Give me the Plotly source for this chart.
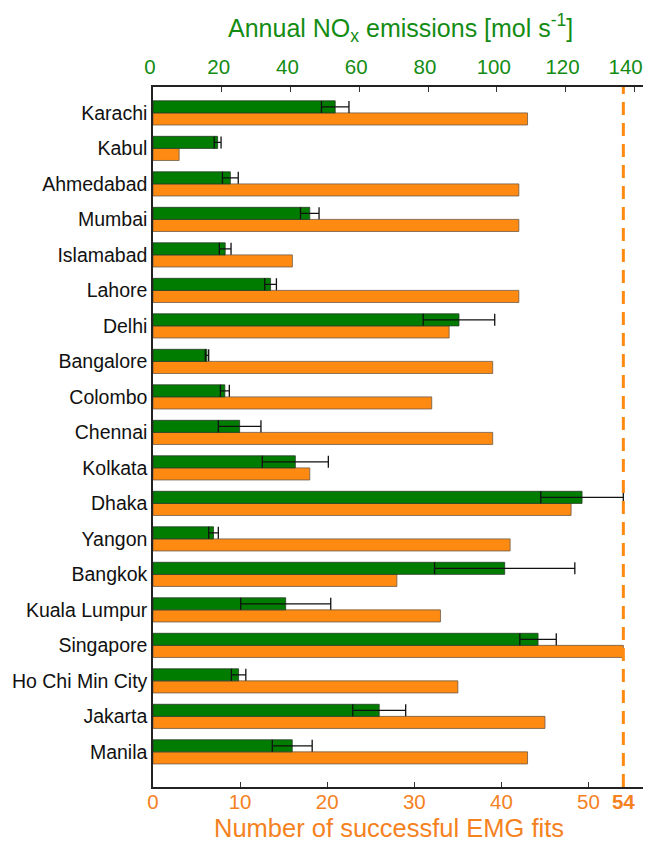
import plotly.graph_objects as go

cities = ["Karachi", "Kabul", "Ahmedabad", "Mumbai", "Islamabad", "Lahore", "Delhi",
          "Bangalore", "Colombo", "Chennai", "Kolkata", "Dhaka", "Yangon", "Bangkok",
          "Kuala Lumpur", "Singapore", "Ho Chi Min City", "Jakarta", "Manila"]
nox = [53.0, 18.8, 22.5, 45.6, 21.0, 34.2, 89.0, 15.7, 20.9, 25.2, 41.4, 124.8,
       17.6, 102.3, 38.6, 112.0, 24.9, 65.8, 40.5]
nox_err = [4.0, 1.0, 2.3, 2.7, 1.7, 1.7, 10.4, 0.5, 1.3, 6.2, 9.6, 12.0,
           1.4, 20.4, 13.1, 5.3, 2.1, 7.7, 5.8]
fits = [43, 3, 42, 42, 16, 42, 34, 39, 32, 39, 18, 48, 41, 28, 33, 54, 35, 45, 43]
max_fits = 54
bottom_ticks = [0, 10, 20, 30, 40, 50, 54]
top_ticks = [0, 20, 40, 60, 80, 100, 120, 140]

GREEN = "#007c00"
ORANGE = "#ff8a12"
GREEN_TXT = "#148c14"
ORANGE_TXT = "#f5821f"
FONT = "Liberation Sans, Arial, sans-serif"
BW = 0.34

fig = go.Figure()
fig.add_trace(go.Bar(
    y=cities, x=fits, orientation="h", xaxis="x", yaxis="y",
    marker=dict(color=ORANGE, line=dict(color="rgba(110,90,70,0.8)", width=1)),
    width=BW, offset=0, showlegend=False,
))
fig.add_trace(go.Bar(
    y=cities, x=nox, orientation="h", xaxis="x2", yaxis="y",
    marker=dict(color=GREEN, line=dict(color="rgba(40,60,40,0.8)", width=1)),
    width=BW, offset=-BW, showlegend=False,
    error_x=dict(type="data", array=nox_err, visible=True, color="#111111",
                 thickness=1.3, width=6),
))

fig.add_shape(type="line", xref="x", yref="paper", x0=max_fits, x1=max_fits,
              y0=0, y1=1, line=dict(color=ORANGE, width=3, dash="13px,8px"),
              layer="above")

bottom_text = [str(v) if v != max_fits else "<b>%d</b>" % v for v in bottom_ticks]
# last top label padded so it stays inside the page edge, as in the reference
top_text = [str(v) if v != top_ticks[-1] else "%d&nbsp;&nbsp;" % v for v in top_ticks]

# page body has an 8px default margin: figure is sized so it ends at the window edge
fig.update_layout(
    width=643, height=836,
    margin=dict(l=145, r=5, t=79, b=57),
    plot_bgcolor="white", paper_bgcolor="white",
    barmode="overlay",
    font=dict(family=FONT),
    xaxis=dict(range=[0, 56.6], tickvals=bottom_ticks, ticktext=bottom_text,
               ticks="inside", ticklen=5, tickcolor="#333", tickwidth=1,
               tickfont=dict(size=20.5, color=ORANGE_TXT, family=FONT),
               ticklabelstandoff=-4, ticklabeloverflow="allow",
               showline=True, linecolor="#222", linewidth=1.5, automargin=False,
               showgrid=False, zeroline=False, anchor="y", side="bottom"),
    xaxis2=dict(range=[0, 143.4], tickvals=top_ticks, ticktext=top_text,
                ticks="inside", ticklen=5, tickcolor="#333", tickwidth=1,
                tickfont=dict(size=20.5, color=GREEN_TXT, family=FONT),
                ticklabelstandoff=3, ticklabelshift=-3, ticklabeloverflow="allow",
                showline=True, linecolor="#222", linewidth=1.5, automargin=False,
                showgrid=False, zeroline=False, overlaying="x", side="top", anchor="y"),
    yaxis=dict(type="category", range=[18.99, -0.73], categoryorder="array",
               categoryarray=cities, ticks="", showline=True, mirror=True,
               linecolor="#222", linewidth=1.5, showgrid=False, automargin=False,
               tickfont=dict(size=19.5, color="#111", family=FONT)),
    annotations=[
        dict(text="Annual NO<sub>x</sub> emissions [mol s<sup>-1</sup>]", xref="paper", yref="paper",
             x=0.503, y=1.0843, xanchor="center", yanchor="middle", showarrow=False,
             font=dict(size=25, color=GREEN_TXT, family=FONT)),
        dict(text="Number of successful EMG fits", xref="paper", yref="paper",
             x=0.478, y=-0.0586, xanchor="center", yanchor="middle", showarrow=False,
             font=dict(size=25.5, color=ORANGE_TXT, family=FONT)),
    ],
)

fig.write_html("out.html")
